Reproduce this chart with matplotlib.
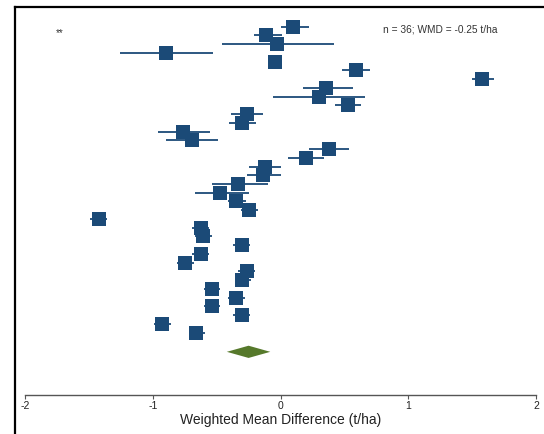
import numpy as np
import matplotlib.pyplot as plt
from matplotlib.lines import Line2D

plt.rcParams['font.family'] = ['Liberation Sans', 'DejaVu Sans']
plt.rcParams['axes.unicode_minus'] = False

# per-study weighted mean differences (t/ha) with 95% CI, top to bottom
wmd = [0.10, -0.11, -0.03, -0.90, -0.04, 0.59, 1.58, 0.36, 0.30, 0.53,
       -0.26, -0.30, -0.76, -0.69, 0.38, 0.20, -0.12, -0.14, -0.33, -0.47,
       -0.35, -0.25, -1.42, -0.62, -0.61, -0.30, -0.62, -0.75, -0.26, -0.30,
       -0.54, -0.35, -0.54, -0.30, -0.93, -0.66]
ci_lo = [0.00, -0.21, -0.46, -1.26, -0.08, 0.48, 1.50, 0.18, -0.06, 0.43,
         -0.39, -0.40, -0.96, -0.90, 0.22, 0.06, -0.25, -0.26, -0.54, -0.67,
         -0.41, -0.31, -1.49, -0.69, -0.67, -0.37, -0.69, -0.81, -0.33, -0.36,
         -0.60, -0.41, -0.60, -0.37, -0.99, -0.72]
ci_hi = [0.22, 0.01, 0.42, -0.53, 0.00, 0.70, 1.67, 0.57, 0.66, 0.63,
         -0.14, -0.19, -0.55, -0.49, 0.54, 0.34, 0.00, 0.00, -0.10, -0.25,
         -0.27, -0.18, -1.36, -0.56, -0.54, -0.24, -0.56, -0.68, -0.20, -0.23,
         -0.47, -0.28, -0.47, -0.24, -0.86, -0.59]

# pooled estimate
pooled = -0.25
pooled_lo, pooled_hi = -0.42, -0.08
n_studies = len(wmd)

blue = '#1b4a77'
green = '#56792b'

fig = plt.figure(figsize=(5.44, 4.34), dpi=100)
ax = fig.add_axes([25 / 544, 39 / 434, 511 / 544, 385 / 434])

ypos = np.arange(1, n_studies + 1)
for y, lo, hi in zip(ypos, ci_lo, ci_hi):
    ax.plot([lo, hi], [y, y], color=blue, lw=1.3, solid_capstyle='butt', zorder=2)
ax.plot(wmd, ypos, 's', color=blue, markersize=9.4, markeredgewidth=0, zorder=3)

# pooled diamond
yd = n_studies + 2.2
ax.fill([pooled_lo, pooled, pooled_hi, pooled], [yd, yd - 0.7, yd, yd + 0.7],
        color=green, lw=0, zorder=3)

ax.set_xlim(-2, 2)
ax.set_ylim(43.14, -0.91)
ax.set_xticks([-2, -1, 0, 1, 2])
ax.set_yticks([])
for s in ['top', 'right', 'left']:
    ax.spines[s].set_visible(False)
ax.spines['bottom'].set_color('#555555')
ax.spines['bottom'].set_linewidth(1.0)
ax.tick_params(axis='x', direction='out', length=3, width=0.8, color='#555555',
               labelsize=7.5, pad=1.5, labelcolor='#222222')
ax.set_xlabel('Weighted Mean Difference (t/ha)', fontsize=10, color='#222222', labelpad=1)

ax.text(383 / 544, 1 - 29.5 / 434, f'n = {n_studies}; WMD = {pooled} t/ha',
        transform=fig.transFigure, fontsize=7.3, color='#333333', va='center', ha='left')
ax.text(60 / 544, 1 - 33 / 434, '**', transform=fig.transFigure, fontsize=7,
        color='#333333', ha='center', va='center')

# outer frame (top and left edges)
fig.add_artist(Line2D([15 / 544, 1.0], [1 - 6.5 / 434] * 2, color='black', lw=1.6))
fig.add_artist(Line2D([15.2 / 544] * 2, [0.0, 1 - 6.5 / 434], color='black', lw=1.6))

fig.savefig('out.png', dpi=100)
